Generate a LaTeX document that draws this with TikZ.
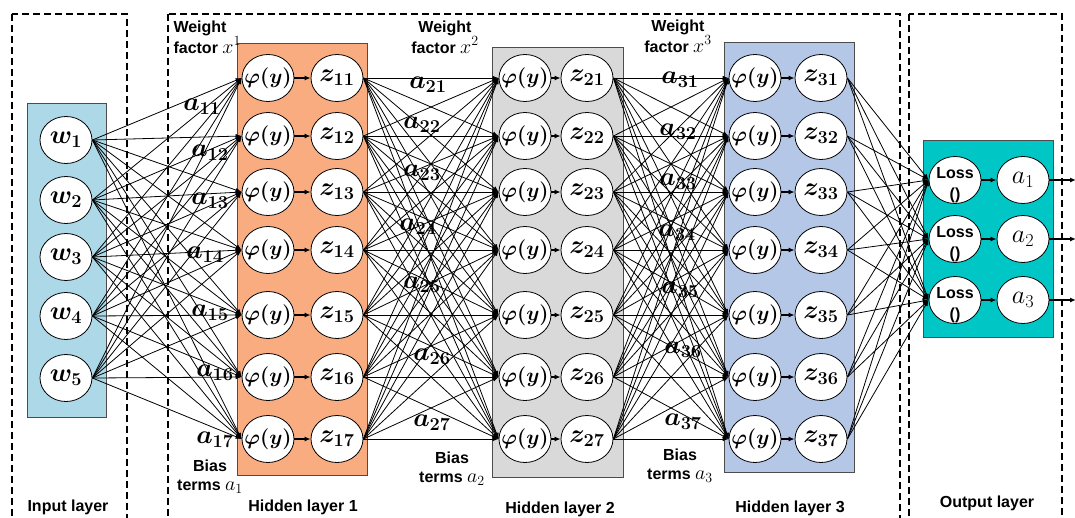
\RequirePackage{fix-cm}
\documentclass[tikz,border=0pt]{standalone}
\usepackage{amsmath}
\usepackage[no-math]{fontspec}
\setmainfont{Liberation Sans}
\usetikzlibrary{arrows.meta,shapes.geometric}

\definecolor{inputc}{RGB}{172,216,232}
\definecolor{hidA}{RGB}{248,172,128}
\definecolor{hidB}{RGB}{217,217,217}
\definecolor{hidC}{RGB}{180,199,231}
\definecolor{outc}{RGB}{0,198,198}
\newcommand\mathlbl[1]{{\fontsize{20}{19}\selectfont$#1$}}

\begin{document}
\begin{tikzpicture}[x=1pt,y=-1pt,
  neuron/.style={draw,fill=white,ellipse,minimum width=52pt,minimum height=47pt,
    inner xsep=-14pt,inner ysep=-4pt,line width=0.8pt,
    font=\fontsize{26}{26}\selectfont\boldmath},
  phi/.style={neuron,font=\fontsize{21}{21}\selectfont\boldmath},
  loss/.style={neuron,align=center,inner ysep=-11pt,font=\fontsize{16}{21}\selectfont\bfseries},
  outn/.style={neuron,font=\fontsize{26}{26}\selectfont},
  layerbox/.style={draw=black!70,line width=0.8pt},
  region/.style={draw,line width=2.5pt,dash pattern=on 7pt off 4pt},
  conn/.style={line width=0.8pt,-{Latex[length=6pt,width=4.5pt]}},
  pass/.style={line width=1.4pt,-{Latex[length=6pt,width=5pt]}},
  lbl/.style={align=center,font=\fontsize{16}{19}\selectfont\bfseries},
  wlbl/.style={font=\fontsize{26}{26}\selectfont\boldmath}]
  \useasboundingbox (0,0) rectangle (1075,517);
  \clip (0,0) rectangle (1075,517);
  % regions
  \draw[region] (12,14) rectangle (127,540);
  \draw[region] (168,14) rectangle (900,540);
  \draw[region] (909,14) rectangle (1062,540);
  % layer boxes
  \draw[layerbox,fill=inputc] (27,103) rectangle (106,417);
  \draw[layerbox,fill=hidA] (237,43) rectangle (367,475);
  \draw[layerbox,fill=hidB] (492,47) rectangle (623,477);
  \draw[layerbox,fill=hidC] (724,42) rectangle (854,472);
  \draw[layerbox,fill=outc] (923,140) rectangle (1053,337);
  % neurons
  \foreach \i/\y in {1/140,2/200,3/257,4/316,5/378}
    \node[neuron] (w\i) at (66,\y) {$w_{\i}$};
  \foreach \j/\y in {1/78,2/136,3/192,4/250,5/315,6/377,7/439} {
    \node[phi] (p1\j) at (268,\y) {$\varphi(y)$};
    \node[neuron] (z1\j) at (337,\y) {$z_{1\j}$};
    \node[phi] (p2\j) at (525,\y) {$\varphi(y)$};
    \node[neuron] (z2\j) at (587,\y) {$z_{2\j}$};
    \node[phi] (p3\j) at (755,\y) {$\varphi(y)$};
    \node[neuron] (z3\j) at (821,\y) {$z_{3\j}$};
    \draw[pass] (p1\j) -- (z1\j);
    \draw[pass] (p2\j) -- (z2\j);
    \draw[pass] (p3\j) -- (z3\j);
  }
  \foreach \k/\y in {1/180,2/239,3/300} {
    \node[loss] (l\k) at (955,\y) {\rule{0pt}{22pt}Loss\\()};
    \node[outn] (o\k) at (1023,\y) {$a_{\k}$};
    \coordinate (e\k) at (1076,\y);
    \draw[pass] (l\k) -- (o\k);
    \draw[pass] (o\k) -- (e\k);
  }
  % connections
  \foreach \i in {1,...,5}
    \foreach \j in {1,...,7}
      \draw[conn] (w\i.east) -- (p1\j.west);
  \foreach \i in {1,...,7}
    \foreach \j in {1,...,7} {
      \draw[conn] (z1\i.east) -- (p2\j.west);
      \draw[conn] (z2\i.east) -- (p3\j.west);
    }
  \foreach \i in {1,...,7}
    \foreach \k in {1,2,3}
      \draw[conn] (z3\i.east) -- (l\k.west);
  % weights
  \foreach \j/\x/\y in {1/202/107,2/210/153,3/210/201,4/205/255,5/210/313,6/215/373,7/215/440}
    \node[wlbl] (lab1\j) at (\x,\y) {$a_{1\j}$};
  \foreach \j/\x/\y in {1/428/85,2/422/125,3/422/173,4/418/227,5/422/285,6/432/357,7/432/423}
    \node[wlbl] (lab2\j) at (\x,\y) {$a_{2\j}$};
  \foreach \j/\x/\y in {1/680/80,2/678/132,3/678/182,4/677/233,5/680/290,6/683/350,7/683/422}
    \node[wlbl] (lab3\j) at (\x,\y) {$a_{3\j}$};
  % texts
  \node[lbl,align=left,anchor=west] (wf1) at (170,37) {Weight\\factor \mathlbl{x^1}};
  \node[lbl] (wf2) at (445,37) {Weight\\factor \mathlbl{x^2}};
  \node[lbl] (wf3) at (678,36) {Weight\\factor \mathlbl{x^3}};
  \node[lbl] (bt1) at (210,477) {Bias\\terms \mathlbl{a_1}};
  \node[lbl] (bt2) at (452,469) {Bias\\terms \mathlbl{a_2}};
  \node[lbl] (bt3) at (680,466) {Bias\\terms \mathlbl{a_3}};
  \node[lbl] (in) at (68,507) {Input layer};
  \node[lbl] (h1) at (303,507) {Hidden layer 1};
  \node[lbl] (h2) at (560,509) {Hidden layer 2};
  \node[lbl] (h3) at (790,508) {Hidden layer 3};
  \node[lbl] (ol) at (987,503) {Output layer};
\end{tikzpicture}
\end{document}
